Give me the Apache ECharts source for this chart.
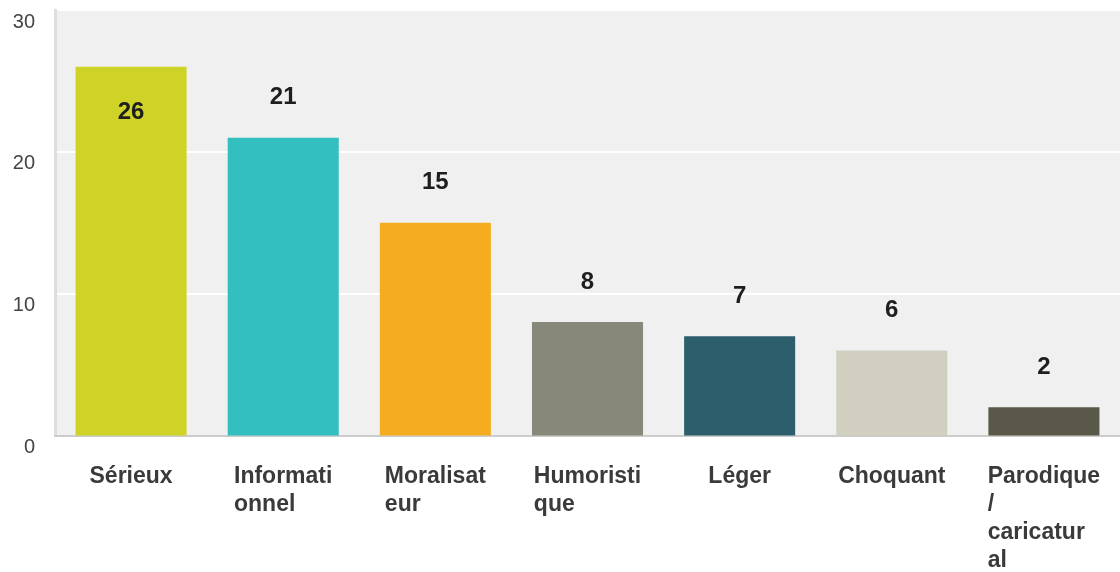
<!DOCTYPE html>
<html><head><meta charset="utf-8">
<script src="https://cdn.jsdelivr.net/npm/echarts@6/dist/echarts.min.js"></script>
<style>html,body{margin:0;padding:0;background:#fff}#c{width:1120px;height:572px}</style>
</head><body><div id="c"></div>
<script>
const categories = ['Sérieux', 'Informationnel', 'Moralisateur', 'Humoristique', 'Léger', 'Choquant', 'Parodique / caricatural'];
const tickLabels = [['Sérieux'], ['Informati', 'onnel'], ['Moralisat', 'eur'], ['Humoristi', 'que'], ['Léger'], ['Choquant'], ['Parodique', '/', 'caricatur', 'al']];
const values = [26, 21, 15, 8, 7, 6, 2];
const colors = ['#cfd328', '#33bec0', '#f5ad1f', '#88887a', '#2d5e6c', '#d1cfc0', '#5a5849'];
const yTicks = [0, 10, 20, 30];

const FONT = 'Arial, "Liberation Sans", sans-serif';
const chart = echarts.init(document.getElementById('c'));
chart.setOption({
  animation: false,
  grid: { left: 55, right: 0, top: 10, bottom: 136, show: true, backgroundColor: '#f0f0f0', borderWidth: 0 },
  xAxis: {
    type: 'category',
    data: categories,
    axisTick: { show: false },
    axisLine: { show: true, lineStyle: { color: '#cccccc', width: 2 } },
    axisLabel: {
      interval: 0,
      margin: 27,
      align: 'center',
      formatter: function (v, i) { return tickLabels[i].map(s => '{a|' + s + '}').join('\n'); },
      rich: { a: { align: 'left', fontFamily: FONT, fontSize: 23, fontWeight: 'bold', color: '#3a3a3a', lineHeight: 28 } }
    }
  },
  yAxis: {
    type: 'value',
    min: yTicks[0], max: yTicks[yTicks.length - 1], interval: 10,
    axisLine: { show: true, lineStyle: { color: '#dddddd', width: 3 } },
    axisTick: { show: false },
    splitLine: { show: true, lineStyle: { color: '#ffffff', width: 2 } },
    axisLabel: { margin: 20, fontFamily: FONT, fontSize: 20, color: '#444444', verticalAlign: 'top', padding: [2, 0, 0, 0] }
  },
  series: [{
    type: 'bar',
    barWidth: '73%',
    data: values.map((v, i) => {
      const inside = v >= 25;
      return {
        value: v,
        itemStyle: { color: colors[i] },
        label: inside ? { position: 'insideTop', distance: 34 } : { position: 'top', distance: 28 }
      };
    }),
    label: { show: true, fontFamily: FONT, fontSize: 24, fontWeight: 'bold', color: '#1e1e1e' }
  }]
});
</script></body></html>
